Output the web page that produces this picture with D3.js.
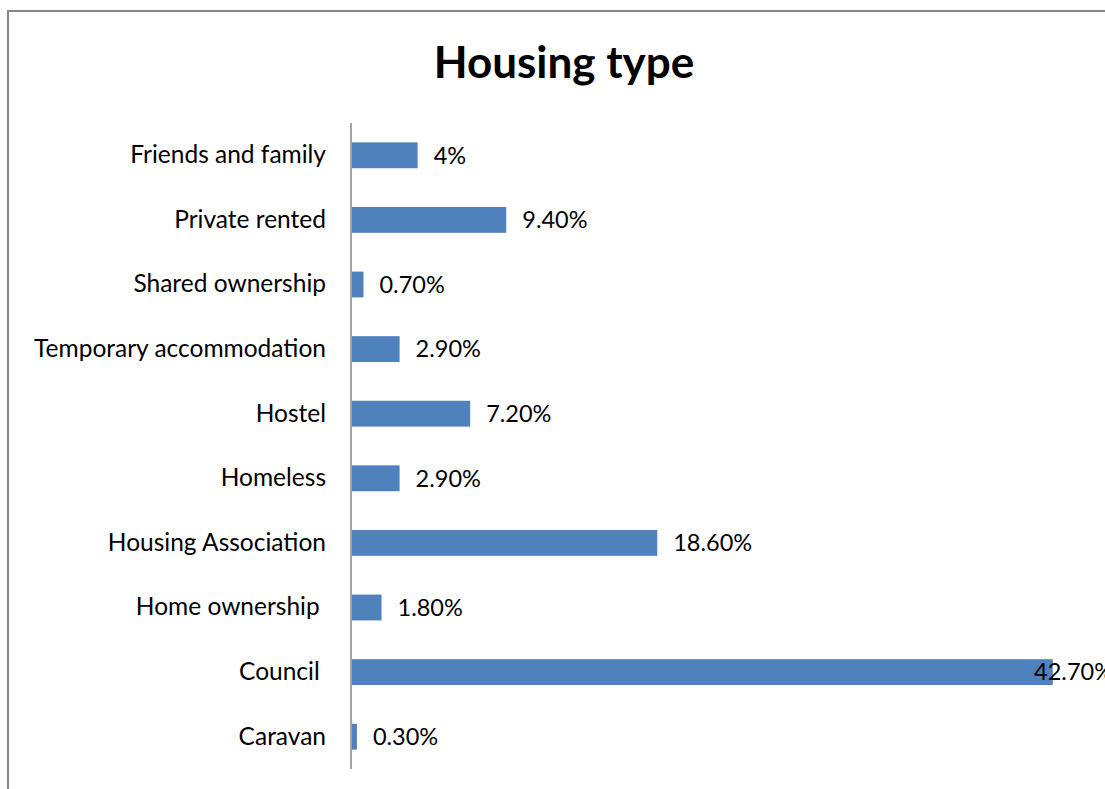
<!DOCTYPE html>
<html>
<head>
<meta charset="utf-8">
<script src="https://cdn.jsdelivr.net/npm/d3@7"></script>
<style>
  html, body { margin: 0; padding: 0; background: #fff; }
  svg { display: block; }
  text { font-family: Lato, "Open Sans", sans-serif; fill: #000; }
</style>
</head>
<body>
<svg id="chart" width="1105" height="789"></svg>
<script>
// Housing type, share of respondents (%)
const categories = [
  "Friends and family",
  "Private rented",
  "Shared ownership",
  "Temporary accommodation",
  "Hostel",
  "Homeless",
  "Housing Association",
  "Home ownership ",
  "Council ",
  "Caravan"
];
const values = [4, 9.4, 0.7, 2.9, 7.2, 2.9, 18.6, 1.8, 42.7, 0.3];
const xDomain = [0, 45];
const chartTitle = "Housing type";

const W = 1105, H = 789;
const svg = d3.select("#chart");

// Outer chart frame (extends past right and bottom edges)
svg.append("rect")
  .attr("x", 8).attr("y", 11)
  .attr("width", W + 20).attr("height", H + 20)
  .attr("fill", "#fff")
  .attr("stroke", "#868686")
  .attr("stroke-width", 2);

const plot = { left: 352, right: 1090.5, top: 123, bottom: 769 };

const x = d3.scaleLinear().domain(xDomain).range([plot.left, plot.right]);
const y = d3.scaleBand()
  .domain(categories)
  .range([plot.top, plot.bottom])
  .paddingInner(0.6)
  .paddingOuter(0.3);

// Title
svg.append("text")
  .attr("x", 564).attr("y", 78)
  .attr("text-anchor", "middle")
  .style("font-size", "44px")
  .style("font-weight", "bold")
  .text(chartTitle);

// Bars
svg.append("g").selectAll("rect")
  .data(values)
  .join("rect")
  .attr("x", x(0))
  .attr("y", (d, i) => y(categories[i]))
  .attr("width", d => x(d) - x(0))
  .attr("height", y.bandwidth())
  .attr("fill", "#4F81BD");

// Category axis
const yAxis = svg.append("g")
  .attr("transform", `translate(${plot.left - 1},0)`)
  .call(d3.axisLeft(y).tickSize(0).tickPadding(25));
yAxis.select(".domain")
  .attr("d", `M0,${plot.top}V${plot.bottom}`)
  .attr("stroke", "#868686")
  .attr("stroke-width", 1.5);
yAxis.selectAll("text")
  .style("font-family", "Lato, 'Open Sans', sans-serif")
  .style("font-size", "24.5px")
  .style("white-space", "pre")
  .attr("fill", "#000");

// Value labels (placed outside the bar end, pulled back if past the plot edge)
const fmt = v => Number.isInteger(v) ? `${v}%` : `${v.toFixed(2)}%`;
const labelRight = 1113;
svg.append("g").selectAll("text")
  .data(values)
  .join("text")
  .attr("x", d => x(d) + 16)
  .attr("y", (d, i) => y(categories[i]) + y.bandwidth() / 2)
  .attr("dy", "0.35em")
  .style("font-size", "23.5px")
  .text(d => fmt(d))
  .each(function (d) {
    const w = this.getComputedTextLength();
    const sx = x(d) + 16;
    if (sx + w > labelRight) d3.select(this).attr("x", labelRight - w);
  });
</script>
</body>
</html>
